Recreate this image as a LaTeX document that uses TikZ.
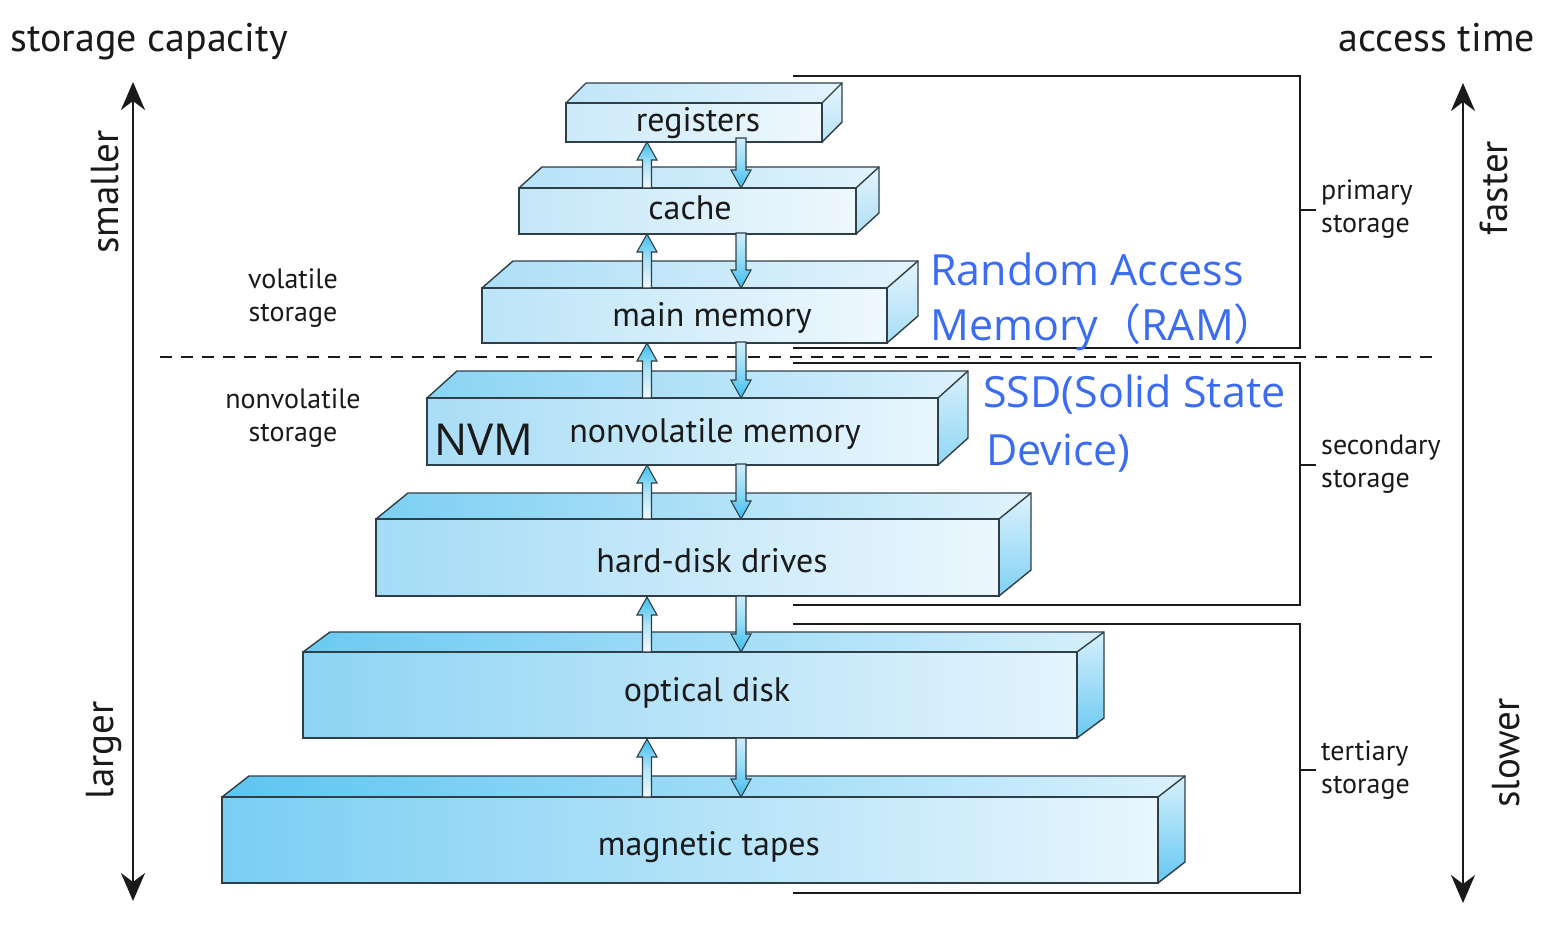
\documentclass[tikz,border=0pt]{standalone}
\usepackage{fontspec}
\setmainfont{PT Sans}
\newfontfamily\blufont{Open Sans}
\newfontfamily\cjkfont{Noto Sans CJK SC}
\usetikzlibrary{arrows.meta}
\definecolor{fl1}{HTML}{CBEAF9}\definecolor{fr1}{HTML}{EFF8FD}\definecolor{tl1}{HTML}{C0E5F8}\definecolor{tr1}{HTML}{E3F4FC}\definecolor{st1}{HTML}{E6F5FD}\definecolor{sb1}{HTML}{B8E2F7}
\definecolor{fl2}{HTML}{C4E7F8}\definecolor{fr2}{HTML}{EEF8FD}\definecolor{tl2}{HTML}{B8E2F7}\definecolor{tr2}{HTML}{E0F3FC}\definecolor{st2}{HTML}{E3F4FC}\definecolor{sb2}{HTML}{B0DFF6}
\definecolor{fl3}{HTML}{BBE4F8}\definecolor{fr3}{HTML}{EFF8FD}\definecolor{tl3}{HTML}{ADDEF6}\definecolor{tr3}{HTML}{E3F4FC}\definecolor{st3}{HTML}{E3F4FC}\definecolor{sb3}{HTML}{A8DDF6}
\definecolor{fl4}{HTML}{A9DDF6}\definecolor{fr4}{HTML}{E8F6FD}\definecolor{tl4}{HTML}{8AD4F4}\definecolor{tr4}{HTML}{DCF1FC}\definecolor{st4}{HTML}{D8F0FB}\definecolor{sb4}{HTML}{90D6F5}
\definecolor{fl5}{HTML}{A4DBF6}\definecolor{fr5}{HTML}{ECF7FD}\definecolor{tl5}{HTML}{7CCFF3}\definecolor{tr5}{HTML}{E0F3FC}\definecolor{st5}{HTML}{DDF2FC}\definecolor{sb5}{HTML}{80D1F3}
\definecolor{fl6}{HTML}{8ED4F4}\definecolor{fr6}{HTML}{E4F4FC}\definecolor{tl6}{HTML}{6ACAF2}\definecolor{tr6}{HTML}{D5EFFB}\definecolor{st6}{HTML}{D5EFFB}\definecolor{sb6}{HTML}{6ACAF2}
\definecolor{fl7}{HTML}{7ACEF3}\definecolor{fr7}{HTML}{E9F6FD}\definecolor{tl7}{HTML}{5CC5F1}\definecolor{tr7}{HTML}{DAF1FC}\definecolor{st7}{HTML}{D8F0FB}\definecolor{sb7}{HTML}{63C8F2}
\definecolor{edge}{HTML}{2F3F47}
\definecolor{arrblue}{HTML}{3BBDEF}
\definecolor{arrpale}{HTML}{F2FAFE}
\definecolor{ramblue}{RGB}{59,108,243}
\definecolor{ink}{HTML}{1A1A1A}

\newcommand\tdbox[7]{%
  \shade[left color=fl#1,right color=fr#1] (#2,#3) rectangle (#4,#5);
  \shade[left color=tl#1,right color=tr#1] (#2,#3) -- (#2+#6,#3-#7) -- (#4+#6,#3-#7) -- (#4,#3) -- cycle;
  \shade[top color=st#1,bottom color=sb#1] (#4,#3) -- (#4+#6,#3-#7) -- (#4+#6,#5-#7) -- (#4,#5) -- cycle;
  \draw[boxline] (#2,#3) rectangle (#4,#5);
  \draw[boxline] (#2,#3) -- (#2+#6,#3-#7) -- (#4+#6,#3-#7) -- (#4+#6,#5-#7) -- (#4,#5);
  \draw[boxline] (#4,#3) -- (#4+#6,#3-#7);
}
% up arrow: #1 x, #2 tip y, #3 base y
\newcommand\uparr[3]{%
  \shadedraw[arrup] (#1-4.5,#3) -- (#1-4.5,#2+18) -- (#1-10,#2+18) -- (#1,#2) -- (#1+10,#2+18) -- (#1+4.5,#2+18) -- (#1+4.5,#3) -- cycle;
}
% down arrow: #1 x, #2 start y, #3 tip y
\newcommand\dnarr[3]{%
  \shadedraw[arrdn] (#1-5,#2) -- (#1-5,#3-18) -- (#1-10,#3-18) -- (#1,#3) -- (#1+10,#3-18) -- (#1+5,#3-18) -- (#1+5,#2) -- cycle;
}

\begin{document}
\begin{tikzpicture}[x=1pt,y=-1pt,
  boxline/.style={draw=edge,line width=1.4pt,line join=miter},
  arrup/.style={draw=edge,line width=1.1pt,top color=arrblue,bottom color=arrpale,middle color=arrblue!40},
  arrdn/.style={draw=edge,line width=1.1pt,top color=arrblue!25,bottom color=arrblue,middle color=arrblue!55},
  boxtext/.style={anchor=base,text=ink,font=\fontsize{34}{38}\selectfont},
  sidetext/.style={text=ink,font=\fontsize{28}{33}\selectfont,inner sep=0pt},
  headtext/.style={anchor=base,text=ink,font=\fontsize{40}{46}\selectfont,inner sep=0pt},
  axistext/.style={rotate=90,text=ink,font=\fontsize{39}{44}\selectfont,inner sep=0pt},
  bluetext/.style={anchor=base west,text=ramblue,font=\blufont\fontsize{43}{50}\selectfont,inner sep=0pt},
  brk/.style={draw=ink,line width=2.4pt},
  axis/.style={draw=ink,line width=2.6pt,{Stealth[length=28pt,width=24pt,inset=9pt]}-{Stealth[length=28pt,width=24pt,inset=9pt]}},
  dashline/.style={draw=ink,line width=2pt,dash pattern=on 12pt off 9pt}]
\useasboundingbox (0,0) rectangle (1552,936);

% dashed separator
\draw[dashline] (160,357) -- (1440,357);

% brackets
\draw[brk] (793,76) -- (1300,76) -- (1300,348) -- (793,348);
\draw[brk] (1300,210) -- (1316,210);
\draw[brk] (793,363) -- (1300,363) -- (1300,605) -- (793,605);
\draw[brk] (1300,465) -- (1316,465);
\draw[brk] (793,624) -- (1300,624) -- (1300,893) -- (793,893);
\draw[brk] (1300,770) -- (1316,770);

% boxes
\tdbox{1}{566}{103}{822}{142}{20}{20}
\tdbox{2}{519}{188}{856}{234}{23}{21}
\tdbox{3}{482}{288}{887}{343}{31}{27}
\tdbox{4}{427}{398}{938}{465}{30}{27}
\tdbox{5}{376}{519}{999}{596}{32}{26}
\tdbox{6}{303}{652}{1077}{738}{27}{20}
\tdbox{7}{222}{797}{1158}{883}{27}{21}

% box labels
\node[boxtext] (reg) at (698,132) {registers};
\node[boxtext] (cache) at (690,219) {cache};
\node[boxtext] (mm) at (712,326) {main memory};
\node[boxtext] (nvm) at (715,442) {nonvolatile memory};
\node[anchor=base west,text=ink,font=\blufont\fontsize{44}{50}\selectfont,inner sep=0pt] (nvmabbr) at (434,455) {NVM};
\node[boxtext] (hdd) at (712,572) {hard-disk drives};
\node[boxtext] (opt) at (707,701) {optical disk};
\node[boxtext] (tape) at (709,855) {magnetic tapes};

% transfer arrows
\uparr{647}{142}{188}  \dnarr{741}{138}{188}
\uparr{647}{234}{288}  \dnarr{741}{233}{288}
\uparr{647}{343}{398}  \dnarr{741}{342}{398}
\uparr{647}{465}{519}  \dnarr{741}{464}{519}
\uparr{647}{597}{652}  \dnarr{741}{596}{652}
\uparr{647}{739}{797}  \dnarr{741}{738}{797}

% axes
\draw[axis] (133,82) -- (133,901);
\draw[axis] (1463,83) -- (1463,903);

% headings
\node[headtext,anchor=base west] (cap) at (10,52) {storage capacity};
\node[headtext,anchor=base east] (acc) at (1535,52) {access time};
\node[axistext] (small) at (105,192) {smaller};
\node[axistext] (large) at (104,750) {larger};
\node[axistext] (fast) at (1494,188) {faster};
\node[axistext] (slow) at (1506,753) {slower};

% side labels
\node[sidetext,align=center] (vol) at (293,298) {volatile\\storage};
\node[sidetext,align=center] (nvol) at (293,418) {nonvolatile\\storage};
\node[sidetext,align=left,anchor=west] (prim) at (1321,209) {primary\\storage};
\node[sidetext,align=left,anchor=west] (sec) at (1321,464) {secondary\\storage};
\node[sidetext,align=left,anchor=west] (ter) at (1321,770) {tertiary\\storage};

% blue annotations
\node[bluetext] (ram1) at (930,285) {Random Access};
\node[bluetext] (ram2) at (930,340) {Memory{\cjkfont （}RAM{\cjkfont ）}};
\node[bluetext] (ssd1) at (983,407) {SSD(Solid State};
\node[bluetext] (ssd2) at (986,465) {Device)};
\end{tikzpicture}
\end{document}
